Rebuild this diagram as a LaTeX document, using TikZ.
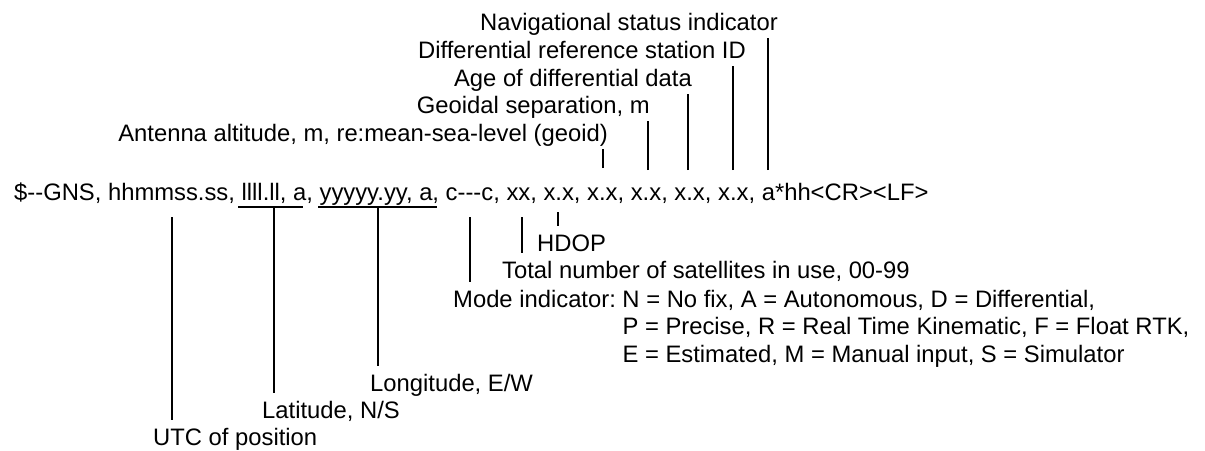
\documentclass[tikz,border=0pt]{standalone}
\usepackage{fontspec}
\setmainfont{Liberation Sans}
\begin{document}
\begin{tikzpicture}[x=1pt, y=-1pt,
    lbl/.style={inner xsep=0pt, inner ysep=8pt, text height=17pt, text depth=0pt,
        font=\fontsize{23.8}{27.5}\selectfont},
    tick/.style={line width=1.3pt}]
    \useasboundingbox (0,0) rectangle (1205,450);

    % Sentence
    \node[lbl, anchor=base west] (gns) at (14,200)
        {\$-{}-GNS, hhmmss.ss, llll.ll, a, yyyyy.yy, a, c-{}-{}-c, xx, x.x, x.x, x.x, x.x, x.x, a*hh<CR><LF>};

    % Fields above the sentence
    \node[lbl, anchor=base east] (nav) at (778,30) {Navigational status indicator};
    \node[lbl, anchor=base east] (refid) at (746,58) {Differential reference station ID};
    \node[lbl, anchor=base east] (age) at (692,86) {Age of differential data};
    \node[lbl, anchor=base east] (geoid) at (650,113) {Geoidal separation, m};
    \node[lbl, anchor=base east] (alt) at (608,141) {Antenna altitude, m, re:mean-sea-level (geoid)};

    % Fields below the sentence
    \node[lbl, anchor=base west] (hdop) at (537,251) {HDOP};
    \node[lbl, anchor=base west] (sats) at (502,278) {Total number of satellites in use, 00-99};
    \node[lbl, anchor=base west] (mode) at (453,307) {%
        \begin{tabular}[t]{@{}l@{}l@{}}
            \mbox{Mode indicator:\ } & N = No fix, A = Autonomous, D = Differential,\\
            & P = Precise, R = Real Time Kinematic, F = Float RTK,\\
            & E = Estimated, M = Manual input, S = Simulator
        \end{tabular}};
    \node[lbl, anchor=base west] (lon) at (370,391) {Longitude, E/W};
    \node[lbl, anchor=base west] (lat) at (262,418) {Latitude, N/S};
    \node[lbl, anchor=base west] (utc) at (153,445) {UTC of position};

    % Points on the sentence
    \coordinate (t-utc) at (172,217);
    \coordinate (lat-l) at (238,207);
    \coordinate (lat-r) at (303,207);
    \coordinate (t-lat) at (274,207);
    \coordinate (lon-l) at (318,207);
    \coordinate (lon-r) at (437,207);
    \coordinate (t-lon) at (378,207);
    \coordinate (t-mode) at (470,217);
    \coordinate (t-sats) at (522,217);
    \coordinate (t-hdop) at (558,212);
    \coordinate (t-alt) at (603,168);
    \coordinate (t-geoid) at (648,170);
    \coordinate (t-age) at (688,170);
    \coordinate (t-refid) at (733,170);
    \coordinate (t-nav) at (768,170);

    % Underlines
    \draw[tick] (lat-l) -- (lat-r);
    \draw[tick] (lon-l) -- (lon-r);

    % Leaders down
    \draw[tick] (t-utc) -- (t-utc |- utc.north);
    \draw[tick] (t-lat) -- (t-lat |- lat.north);
    \draw[tick] (t-lon) -- (t-lon |- lon.north);
    \draw[tick] (t-mode) -- (t-mode |- mode.north);
    \draw[tick] (t-sats) -- (t-sats |- sats.north);
    \draw[tick] (t-hdop) -- (t-hdop |- hdop.north);

    % Leaders up
    \draw[tick] (t-alt) -- (t-alt |- alt.south);
    \draw[tick] (t-geoid) -- (t-geoid |- geoid.south);
    \draw[tick] (t-age) -- (t-age |- age.south);
    \draw[tick] (t-refid) -- (t-refid |- refid.south);
    \draw[tick] (t-nav) -- (t-nav |- nav.south);
\end{tikzpicture}
\end{document}
